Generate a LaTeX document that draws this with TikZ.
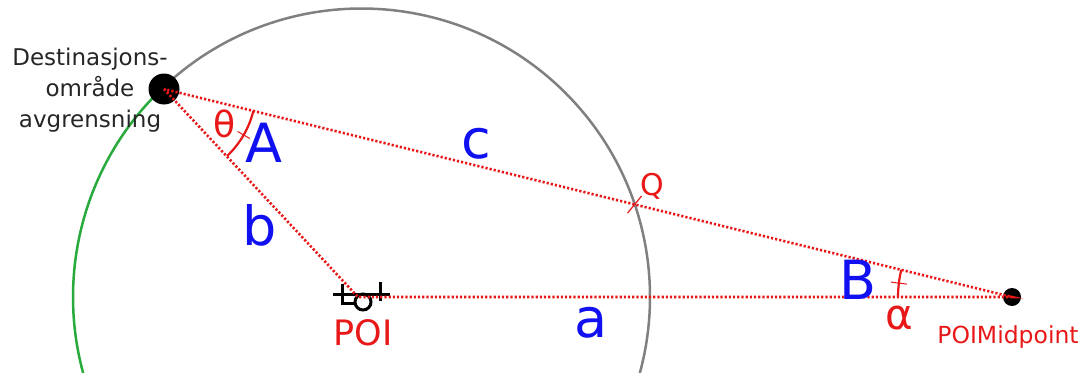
\documentclass[tikz,border=0pt]{standalone}
\usepackage{fontspec}
\setmainfont{DejaVu Sans}
\usetikzlibrary{calc}
\definecolor{lnred}{RGB}{232,24,24}
\definecolor{lblblue}{RGB}{16,16,240}
\definecolor{sirkelgraa}{RGB}{128,128,128}
\definecolor{sirkelgronn}{RGB}{40,170,60}
\begin{document}
\begin{tikzpicture}[x=1pt,y=-1pt,
  side/.style={text=lblblue,font=\fontsize{54}{60}\selectfont,anchor=base,inner sep=0pt},
  redlbl/.style={text=lnred,anchor=base,inner sep=0pt},
  hjelp/.style={draw=lnred,line width=2.6pt,dash pattern=on 2.2pt off 2pt},
  poiikon/.style={draw=black,line width=3pt}]
\useasboundingbox (0,0) rectangle (1086,372);
\clip (0,0) rectangle (1086,372);
% Punkter
\coordinate (C) at (361.5,297);
\coordinate (D) at (164,89);
\coordinate (P) at (358,297);
\coordinate (M) at (1012,297);
\coordinate (Q) at ($(D)!0.555!(M)$);
% Sirkel: grå del og grønn del
\draw[sirkelgraa,line width=2.5pt] (C) ++(226.5:288.5) arc (226.5:460:288.5);
\draw[sirkelgronn,line width=2.5pt] (C) ++(226.5:288.5) arc (226.5:100:288.5);
% Destinasjon og midtpunkt
\fill (D) circle (15.5); \fill (M) circle (9);
% POI-ikon
\draw[poiikon] (333,294) -- (390,294);
\draw[poiikon] (342,284) -- (342,303) -- (354,303);
\draw[poiikon] (363,302) circle (8);
\draw[poiikon] (380,282) -- (380,301);
% Trekant b, a, c
\draw[hjelp] (D) -- (P) -- (M) -- cycle;
% Vinkler theta og alfa + Q
\draw[lnred,line width=2.2pt] (D) ++(13.8:92) arc (13.8:46.7:92);
\draw[lnred,line width=1pt] ($(D)+(30:85)$) -- ($(D)+(30:99)$);
\draw[lnred,line width=2.2pt] (M) ++(180:114) arc (180:193.8:114);
\draw[lnred,line width=1pt] ($(M)+(187:106)$) -- ($(M)+(187:122)$);
\draw[lnred,line width=1.2pt] ($(Q)+(-7,8.5)$) -- ($(Q)+(7,-8.5)$);
% Tekster
\node[side] (lblA) at (264,162) {A};
\node[side] (lblc) at (476,158) {c};
\node[side] (lblb) at (260,245) {b};
\node[side] (lbla) at (591,337) {a};
\node[side] (lblB) at (858,299) {B};
\node[redlbl,font=\fontsize{36}{40}\selectfont] (theta) at (225,137) {θ};
\node[redlbl,font=\fontsize{42}{46}\selectfont] (alfa) at (899,329) {α};
\node[redlbl,font=\fontsize{30}{34}\selectfont] (lblQ) at (652,195) {Q};
\node[redlbl,font=\fontsize{35}{40}\selectfont] (lblPOI) at (363,345) {POI};
\node[redlbl,font=\fontsize{23.5}{28}\selectfont] (lblMid) at (1008,343) {POIMidpoint};
\node[font=\fontsize{23}{31}\selectfont,align=center,inner sep=0pt,text=black!85] (dest) at (90,90) {Destinasjons-\\område\\avgrensning};
\end{tikzpicture}
\end{document}
